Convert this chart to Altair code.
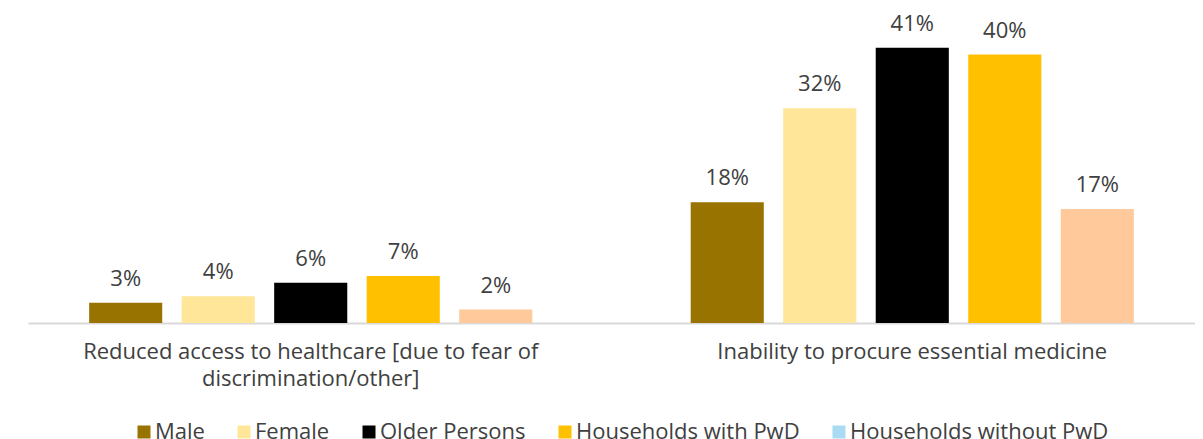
import altair as alt
import pandas as pd

categories = [
    "Reduced access to healthcare [due to fear of discrimination/other]",
    "Inability to procure essential medicine",
]
label_lines = ["Reduced access to healthcare [due to fear of", "discrimination/other]"]
series = ["Male", "Female", "Older Persons", "Households with PwD", "Households without PwD"]
values_access = [3, 4, 6, 7, 2]
values_medicine = [18, 32, 41, 40, 17]
bar_colors = ["#997300", "#FFE699", "#000000", "#FFC000", "#FFC99B"]
legend_colors = ["#997300", "#FFE699", "#000000", "#FFC000", "#A9DCF3"]

rows = []
for cat, vals in zip(categories, [values_access, values_medicine]):
    for s, v in zip(series, vals):
        rows.append({"category": cat, "series": s, "value": v, "label": f"{v}%"})
df = pd.DataFrame(rows)

FONT = "Open Sans"
TXT = "#404040"
W = 1167
H = 306

label_expr = (
    f"datum.label === '{categories[0]}' ? ['{label_lines[0]}', '{label_lines[1]}'] : datum.label"
)

x_enc = alt.X(
    "category:N",
    sort=categories,
    scale=alt.Scale(paddingInner=0.06, paddingOuter=0),
    axis=alt.Axis(
        title=None,
        labelExpr=label_expr,
        labelAngle=0,
        labelFont=FONT,
        labelFontSize=22,
        labelColor=TXT,
        labelPadding=18,
        labelBaseline="top",
        labelLineHeight=27,
        labelLimit=700,
        ticks=False,
        domainColor="#D9D9D9",
        domainWidth=2,
    ),
)
xoff_enc = alt.XOffset(
    "series:N", sort=series, scale=alt.Scale(paddingInner=0.21, paddingOuter=0.661)
)
y_scale = alt.Scale(domain=[0, 45.6], nice=False)

base = alt.Chart(df).encode(x=x_enc, xOffset=xoff_enc)

# small points hidden behind the bars that carry the legend colours
legend_layer = (
    base.transform_calculate(half="datum.value / 2")
    .mark_point(shape="square", filled=True, size=4)
    .encode(
        y=alt.Y("half:Q", scale=y_scale, axis=None),
        color=alt.Color(
            "series:N",
            sort=series,
            scale=alt.Scale(domain=series, range=legend_colors),
            legend=alt.Legend(
                title=None,
                orient="none",
                legendX=105,
                legendY=404,
                direction="horizontal",
                symbolType="square",
                symbolSize=169,
                symbolStrokeWidth=0,
                symbolOpacity=1,
                labelFont=FONT,
                labelFontSize=22,
                labelColor=TXT,
                labelOffset=0,
                labelLimit=500,
                columnPadding=28,
            ),
        ),
    )
)

bars = base.mark_bar().encode(
    y=alt.Y("value:Q", scale=y_scale, axis=None),
    fill=alt.Fill(
        "series:N", sort=series, scale=alt.Scale(domain=series, range=bar_colors), legend=None
    ),
)

text = base.mark_text(
    dy=-17, baseline="alphabetic", fontSize=22, color=TXT, font=FONT
).encode(y=alt.Y("value:Q", scale=y_scale, axis=None), text="label:N")

chart = (
    alt.layer(legend_layer, bars, text)
    .properties(width=W, height=H, padding={"left": 20, "top": 4, "right": 0, "bottom": 6})
    .configure_view(stroke=None)
)

chart.save("out.html", embed_options={"renderer": "svg", "actions": False})
